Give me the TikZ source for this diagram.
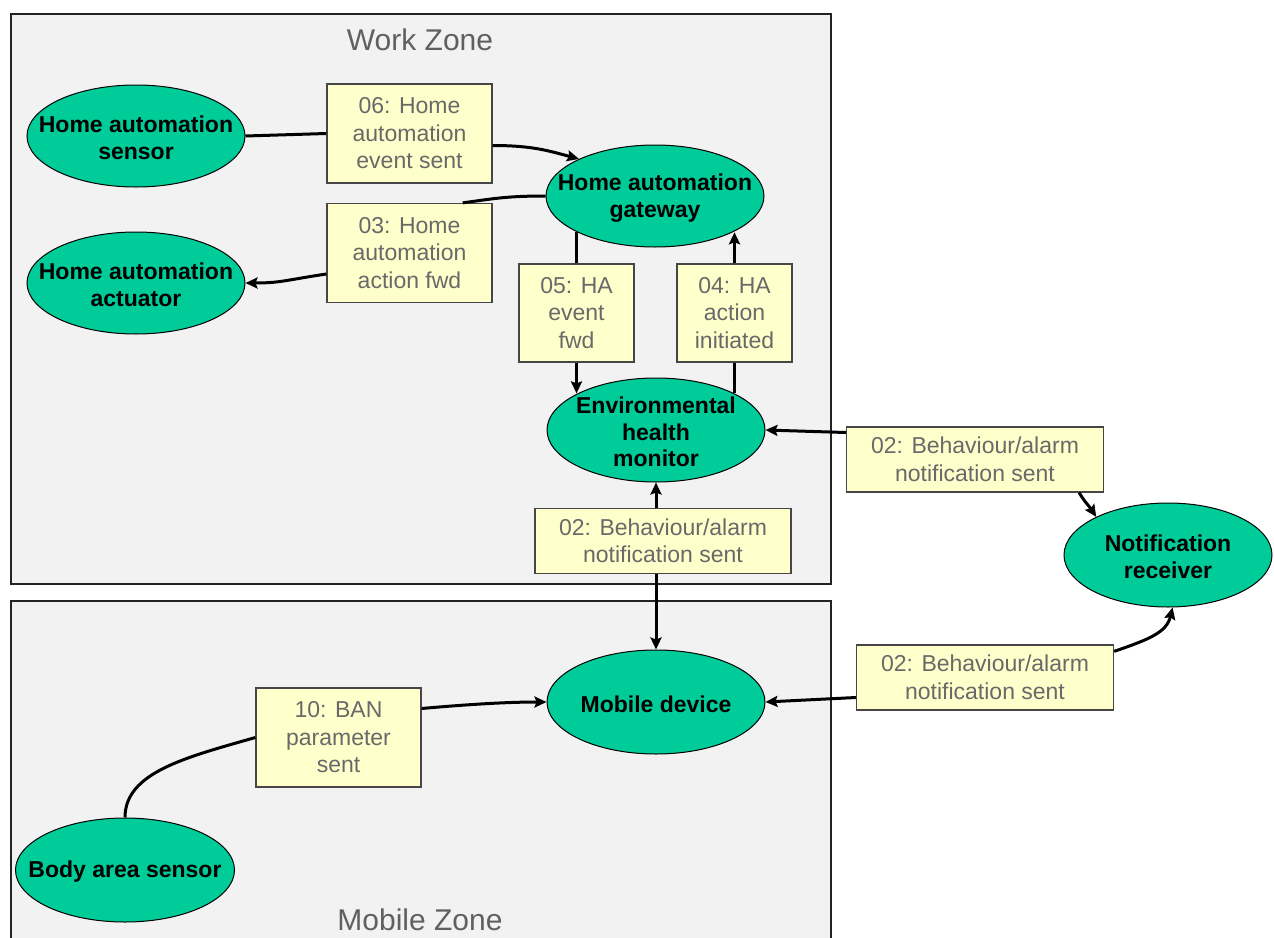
\documentclass[tikz,border=0pt]{standalone}
\usepackage{fontspec}
\setmainfont{Liberation Sans}
\usetikzlibrary{arrows.meta,shapes.geometric}
\definecolor{zonefill}{RGB}{242,242,242}
\definecolor{zoneline}{RGB}{35,35,35}
\definecolor{ellfill}{RGB}{0,204,153}
\definecolor{msgfill}{RGB}{255,255,204}
\definecolor{msgline}{RGB}{70,70,70}
\definecolor{msgtext}{RGB}{105,105,105}
\definecolor{zonetext}{RGB}{96,96,96}

\begin{document}
\begin{tikzpicture}[x=1pt,y=1pt,
  zone/.style={fill=zonefill, draw=zoneline, line width=1.8pt},
  zonetitle/.style={text=zonetext, font=\fontsize{30}{34}\selectfont, inner sep=0pt, anchor=base},
  actor/.style={ellipse, fill=ellfill, draw=black, line width=1pt,
    minimum width=218pt, minimum height=102pt, inner sep=0pt},
  actortext/.style={font=\bfseries\fontsize{23}{26.5}\selectfont, align=center,
    inner sep=0pt, text=black, yshift=-2pt},
  msg/.style={rectangle, fill=msgfill, draw=msgline, line width=1.3pt, text=msgtext,
    font=\fontsize{23}{27.5}\selectfont, align=center, inner sep=0pt},
  msgA/.style={msg, minimum width=165pt, minimum height=99pt},
  msgB/.style={msg, minimum width=115pt, minimum height=98pt},
  msgC/.style={msg, minimum width=256pt, minimum height=65pt},
  flow/.style={line width=3pt, draw=black},
  toward/.style={flow, -{Stealth[length=12pt,width=11pt,inset=2pt]}}
]
\useasboundingbox[fill=white] (0,0) rectangle (1274,-937);

% zones
\draw[zone] (11,-14) rectangle (831,-584);
\draw[zone] (11,-601) rectangle (831,-960);
\node[zonetitle] (wzt) at (420,-50) {Work Zone};
\node[zonetitle] (mzt) at (420,-930) {Mobile Zone};

% actors
\node[actor, label={[actortext]center:{Home automation\\sensor}}] (hs) at (136,-136) {};
\node[actor, label={[actortext]center:{Home automation\\actuator}}] (ha) at (136,-283) {};
\node[actor, label={[actortext]center:{Home automation\\gateway}}] (gw) at (655,-196) {};
\node[actor, minimum height=104pt, label={[actortext]center:{Environmental\\health\\monitor}}] (ehm) at (656,-430) {};
\node[actor, minimum width=208pt, minimum height=104pt, label={[actortext]center:{Notification\\receiver}}] (nr) at (1168,-555) {};
\node[actor, minimum height=104pt, label={[actortext]center:{Mobile device}}] (md) at (656,-702) {};
\node[actor, minimum width=219pt, minimum height=104pt, label={[actortext]center:{Body area sensor}}] (bas) at (125,-870) {};

% messages
\node[msgA] (b06) at (409.5,-133.5) {06: Home\\automation\\event sent};
\node[msgA] (b03) at (409.5,-253) {03: Home\\automation\\action fwd};
\node[msgB] (b05) at (576.5,-313) {05: HA\\event\\fwd};
\node[msgB] (b04) at (734.5,-313) {04: HA\\action\\initiated};
\node[msgC, minimum width=257pt] (b02a) at (975,-459.5) {02: Behaviour/alarm\\notification sent};
\node[msgC] (b02m) at (663,-541) {02: Behaviour/alarm\\notification sent};
\node[msgC, minimum width=257pt] (b02b) at (985,-677.5) {02: Behaviour/alarm\\notification sent};
\node[msgA] (b10) at (338.5,-737.5) {10: BAN\\parameter\\sent};

% flows
\draw[flow] (hs.east) -- (b06.west);
\draw[toward] ([yshift=-12pt]b06.east) .. controls +(40,0) and +(-30,8) .. (gw.154);
\draw[flow] (gw.west) .. controls +(-40,0) and +(30,4) .. ([xshift=-30pt]b03.north east);
\draw[toward] ([yshift=-21pt]b03.west) .. controls +(-40,-6) and +(35,0) .. (ha.east);
\draw[flow] (b05.north |- gw.205) -- (b05.north);
\draw[toward] (b05.south) -- (b05.south |- ehm.155);
\draw[flow] (b04.south |- ehm.25) -- (b04.south);
\draw[toward] (b04.north) -- (b04.north |- gw.-25);
\draw[toward] (b02m.north -| ehm.south) -- (ehm.south);
\draw[toward] (b02m.south -| md.north) -- (md.north);
\draw[toward] ([yshift=27pt]b02a.west) -- (ehm.east);
\draw[toward] ([xshift=-25pt]b02a.south east) .. controls +(6,-10) and +(-8,12) .. (nr.152);
\draw[toward] ([yshift=-20pt]b02b.west) -- (md.east);
\draw[toward] ([yshift=-7pt]b02b.north east) .. controls +(35,12) and +(-6,-25) .. (nr.-85);
\draw[flow] (bas.north) .. controls +(0,45) and +(-70,-20) .. (b10.west);
\draw[toward] ([yshift=29pt]b10.east) .. controls +(45,4) and +(-40,0) .. (md.west);
\end{tikzpicture}
\end{document}
